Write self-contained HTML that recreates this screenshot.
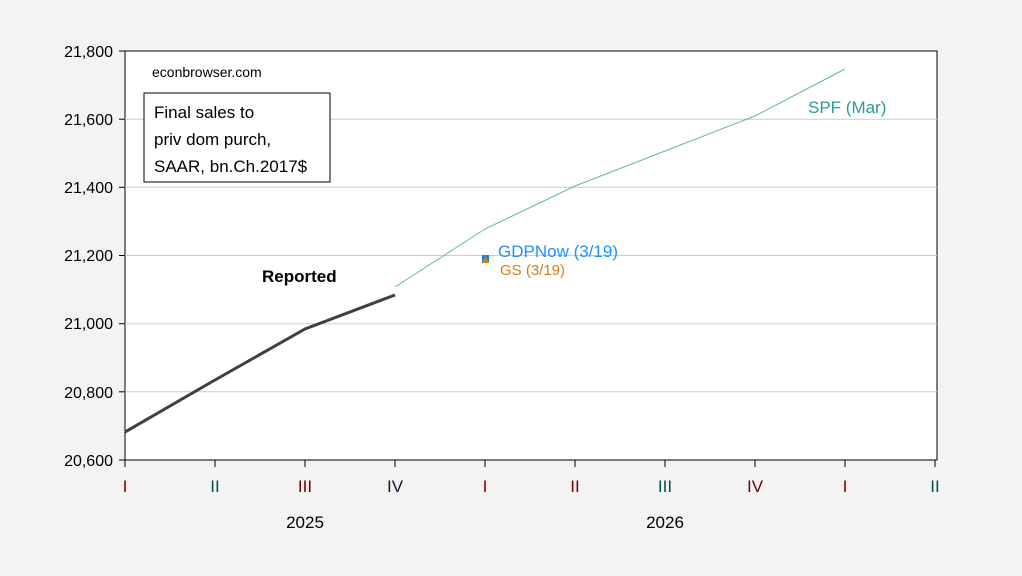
<!DOCTYPE html><html><head><style>body{margin:0;background:#f3f3f3}svg{display:block;font-family:"Liberation Sans",sans-serif}</style></head><body>
<svg width="1022" height="576" xmlns="http://www.w3.org/2000/svg">
<rect width="1022" height="576" fill="#f3f3f3"/>
<rect x="125" y="51" width="812" height="409" fill="#fff" stroke="#000"/>
<g stroke="#ccc" stroke-width="1">
<line x1="125" x2="937" y1="119.2" y2="119.2"/><line x1="125" x2="937" y1="187.3" y2="187.3"/><line x1="125" x2="937" y1="255.5" y2="255.5"/><line x1="125" x2="937" y1="323.7" y2="323.7"/><line x1="125" x2="937" y1="391.8" y2="391.8"/></g>
<g font-size="16" text-anchor="end" fill="#000">
<text x="113" y="57">21,800</text><text x="113" y="125">21,600</text><text x="113" y="193">21,400</text><text x="113" y="261">21,200</text><text x="113" y="329">21,000</text><text x="113" y="398">20,800</text><text x="113" y="466">20,600</text></g>
<g stroke="#000"><line x1="119" x2="125" y1="51" y2="51"/><line x1="119" x2="125" y1="119.2" y2="119.2"/><line x1="119" x2="125" y1="187.3" y2="187.3"/><line x1="119" x2="125" y1="255.5" y2="255.5"/><line x1="119" x2="125" y1="323.7" y2="323.7"/><line x1="119" x2="125" y1="391.8" y2="391.8"/><line x1="119" x2="125" y1="460" y2="460"/>
<line x1="125" x2="125" y1="460" y2="467"/><line x1="215" x2="215" y1="460" y2="467"/><line x1="305" x2="305" y1="460" y2="467"/><line x1="395" x2="395" y1="460" y2="467"/><line x1="485" x2="485" y1="460" y2="467"/><line x1="575" x2="575" y1="460" y2="467"/><line x1="665" x2="665" y1="460" y2="467"/><line x1="755" x2="755" y1="460" y2="467"/><line x1="845" x2="845" y1="460" y2="467"/><line x1="935" x2="935" y1="460" y2="467"/></g>
<g font-size="17" text-anchor="middle">
<text x="125" y="492" fill="#7a0000">I</text><text x="215" y="492" fill="#005050">II</text><text x="305" y="492" fill="#700000">III</text><text x="395" y="492" fill="#101040">IV</text><text x="485" y="492" fill="#7a0000">I</text><text x="575" y="492" fill="#7a0000">II</text><text x="665" y="492" fill="#005050">III</text><text x="755" y="492" fill="#700000">IV</text><text x="845" y="492" fill="#7a0000">I</text><text x="935" y="492" fill="#005050">II</text>
<text x="305" y="528" fill="#000">2025</text><text x="665" y="528" fill="#000">2026</text></g>
<polyline points="125,432 215,380 305,329 395,295" fill="none" stroke="#404040" stroke-width="3"/>
<polyline points="395,287 485,229 575,186 665,151 755,116 845,69" fill="none" stroke="#5fb5b5" stroke-width="1"/>
<rect x="482" y="255" width="7" height="8" fill="#1e7fe0"/><polygon points="482,263 485.5,255.5 489,263" fill="#d08010"/>
<text x="498" y="257" font-size="17" fill="#1e90ff">GDPNow (3/19)</text>
<text x="500" y="275" font-size="15" fill="#d08020">GS (3/19)</text>
<text x="808" y="113" font-size="17" fill="#2a9a9a">SPF (Mar)</text>
<text x="262" y="282" font-size="17" font-weight="bold">Reported</text>
<text x="152" y="77" font-size="14">econbrowser.com</text>
<rect x="144" y="93" width="186" height="89" fill="#fff" stroke="#000"/>
<text font-size="17"><tspan x="154" y="118">Final sales to</tspan><tspan x="154" y="145">priv dom purch,</tspan><tspan x="154" y="172">SAAR, bn.Ch.2017$</tspan></text>
</svg></body></html>
